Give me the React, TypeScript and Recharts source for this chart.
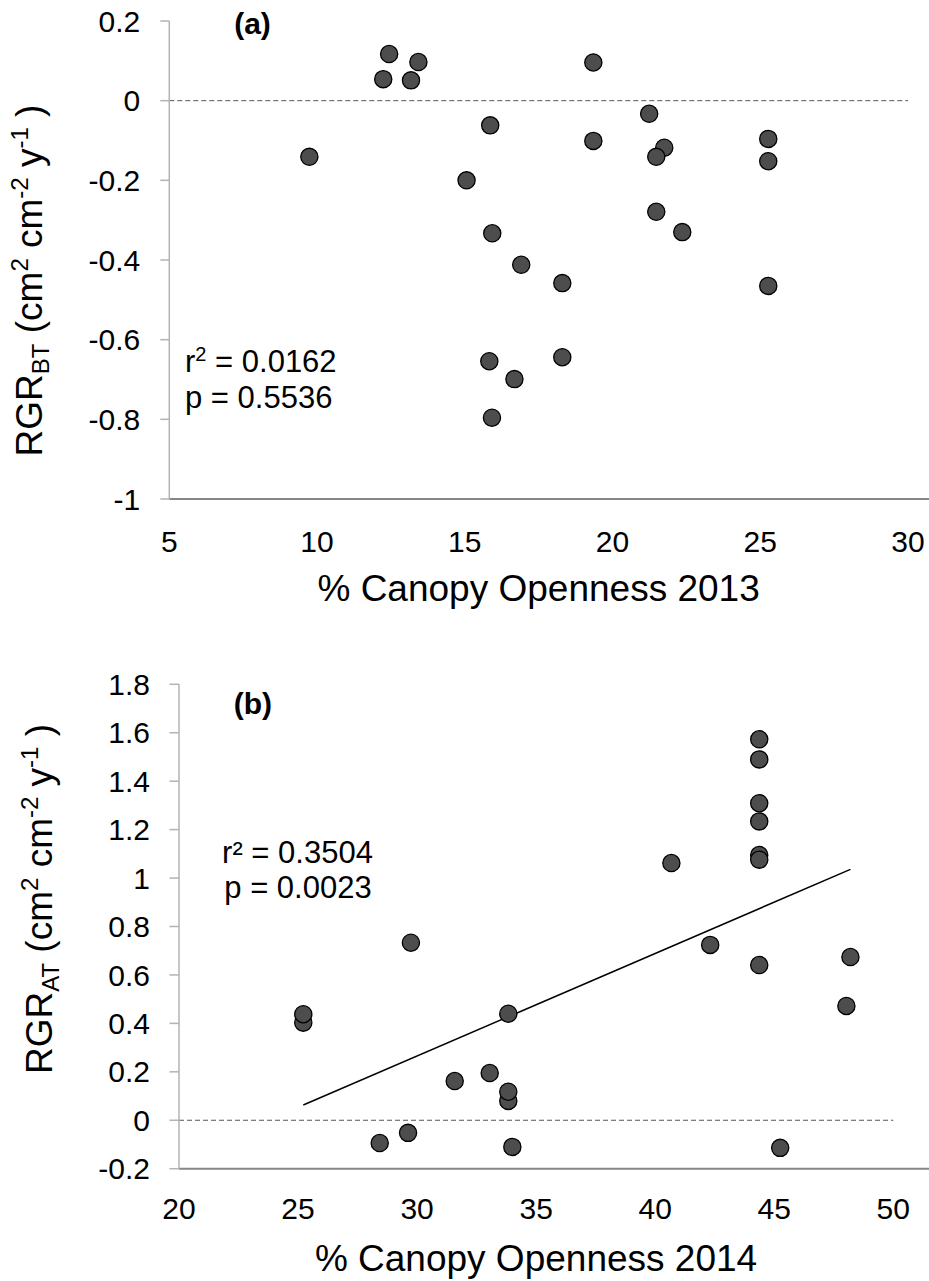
import React from "react";
import {
  ScatterChart,
  Scatter,
  XAxis,
  YAxis,
  ReferenceLine,
} from "recharts";

// Panel (a): canopy openness 2013 vs RGR before treatment
const canopy2013 = [
  9.74, 12.24, 12.44, 13.18, 13.43, 15.06, 15.86, 15.93, 15.83, 15.92, 16.68,
  16.91, 18.3, 18.3, 19.35, 19.35, 21.24, 21.75, 21.48, 21.48, 22.36, 25.27,
  25.27, 25.27,
];
const rgrBT = [
  -0.141, 0.054, 0.117, 0.051, 0.097, -0.2, -0.062, -0.333, -0.654, -0.796,
  -0.699, -0.412, -0.458, -0.644, 0.096, -0.101, -0.033, -0.118, -0.141,
  -0.279, -0.33, -0.096, -0.152, -0.465,
];

// Panel (b): canopy openness 2014 vs RGR after treatment
const canopy2014 = [
  25.22, 25.22, 28.43, 29.62, 29.74, 31.58, 33.05, 33.83, 33.83, 33.83, 34.0,
  40.68, 42.31, 44.37, 44.37, 44.37, 44.37, 44.37, 44.37, 44.37, 45.25, 48.03,
  48.2,
];
const rgrAT = [
  0.403, 0.438, -0.094, -0.052, 0.733, 0.162, 0.195, 0.44, 0.08, 0.118, -0.11,
  1.062, 0.724, 1.573, 1.49, 1.309, 1.234, 1.095, 1.076, 0.641, -0.114, 0.472,
  0.674,
];

// fitted trend line in (b), end points
const trendX = [25.22, 48.2];
const trendY = [0.063, 1.036];

const xTicksA = [5, 10, 15, 20, 25, 30];
const yTicksA = [-1, -0.8, -0.6, -0.4, -0.2, 0, 0.2];
const xTicksB = [20, 25, 30, 35, 40, 45, 50];
const yTicksB = [-0.2, 0, 0.2, 0.4, 0.6, 0.8, 1, 1.2, 1.4, 1.6, 1.8];

const FONT = "'Liberation Sans', Arial, sans-serif";
const AXIS_GREY = "#b3b3b3";
const XAXIS_GREY = "#868686";

const pointsA = canopy2013.map((x, i) => ({ x, y: rgrBT[i] }));
const pointsB = canopy2014.map((x, i) => ({ x, y: rgrAT[i] }));

const tickStyle = { fontSize: 30, fill: "#000", fontFamily: FONT };

const Dot = (p: any) => (
  <circle
    cx={p.cx}
    cy={p.cy}
    r={8.6}
    fill="#4d4d4d"
    stroke="#000"
    strokeWidth={1.3}
  />
);

function YTitle({ x, y, sub }: { x: number; y: number; sub: string }) {
  return (
    <text
      x={x}
      y={y}
      transform={`rotate(-90 ${x} ${y})`}
      textAnchor="middle"
      fontSize={37}
      fontFamily={FONT}
      fill="#000"
    >
      RGR
      <tspan dy={7} fontSize={24}>
        {sub}
      </tspan>
      <tspan dy={-7}> (cm</tspan>
      <tspan dy={-14} fontSize={24}>
        2
      </tspan>
      <tspan dy={14}> cm</tspan>
      <tspan dy={-14} fontSize={24}>
        -2
      </tspan>
      <tspan dy={14}> y</tspan>
      <tspan dy={-14} fontSize={24}>
        -1
      </tspan>
      <tspan dy={14}> )</tspan>
    </text>
  );
}

function PanelA() {
  return (
    <ScatterChart
      width={929}
      height={640}
      margin={{ top: 21, right: 0, bottom: 0, left: 0 }}
    >
      <XAxis
        type="number"
        dataKey="x"
        domain={[5, 30.71]}
        ticks={xTicksA}
        interval={0}
        tickLine={false}
        tickSize={0}
        tickMargin={32}
        height={141}
        axisLine={{ stroke: XAXIS_GREY, strokeWidth: 2 }}
        tick={tickStyle}
      />
      <YAxis
        type="number"
        dataKey="y"
        domain={[-1, 0.2]}
        ticks={yTicksA}
        interval={0}
        width={169.3}
        tickSize={9}
        tickMargin={20}
        tickLine={{ stroke: AXIS_GREY, strokeWidth: 1.5 }}
        axisLine={{ stroke: AXIS_GREY, strokeWidth: 1.5 }}
        tick={tickStyle}
      />
      <ReferenceLine
        segment={[
          { x: 5, y: 0 },
          { x: 30, y: 0 },
        ]}
        stroke="#555"
        strokeDasharray="5 3"
        strokeWidth={1}
      />
      <Scatter data={pointsA} shape={Dot} isAnimationActive={false} />
      <text
        x={252.5}
        y={34}
        textAnchor="middle"
        fontSize={30}
        fontWeight="bold"
        fontFamily={FONT}
        fill="#000"
      >
        (a)
      </text>
      <text x={185} y={371.7} fontSize={31} fontFamily={FONT} fill="#000">
        r
        <tspan dy={-11} fontSize={20}>
          2
        </tspan>
        <tspan dy={11}> = 0.0162</tspan>
      </text>
      <text x={185} y={408.3} fontSize={31} fontFamily={FONT} fill="#000">
        p = 0.5536
      </text>
      <text
        x={538.6}
        y={601}
        textAnchor="middle"
        fontSize={37}
        fontFamily={FONT}
        fill="#000"
      >
        % Canopy Openness 2013
      </text>
      <YTitle x={42} y={280.5} sub="BT" />
    </ScatterChart>
  );
}

function PanelB() {
  return (
    <ScatterChart
      width={929}
      height={641}
      margin={{ top: 44.3, right: 0, bottom: 0, left: 0 }}
    >
      <XAxis
        type="number"
        dataKey="x"
        domain={[20, 51.5]}
        ticks={xTicksB}
        interval={0}
        tickLine={false}
        tickSize={0}
        tickMargin={29.3}
        height={112.3}
        axisLine={{ stroke: XAXIS_GREY, strokeWidth: 2 }}
        tick={tickStyle}
      />
      <YAxis
        type="number"
        dataKey="y"
        domain={[-0.2, 1.8]}
        ticks={yTicksB}
        interval={0}
        width={179}
        tickSize={9.5}
        tickMargin={19.5}
        tickLine={{ stroke: AXIS_GREY, strokeWidth: 1.5 }}
        axisLine={{ stroke: AXIS_GREY, strokeWidth: 1.5 }}
        tick={tickStyle}
      />
      <ReferenceLine
        segment={[
          { x: 20, y: 0 },
          { x: 50, y: 0 },
        ]}
        stroke="#555"
        strokeDasharray="5 3"
        strokeWidth={1}
      />
      <ReferenceLine
        segment={[
          { x: trendX[0], y: trendY[0] },
          { x: trendX[1], y: trendY[1] },
        ]}
        stroke="#000"
        strokeWidth={1.5}
      />
      <Scatter data={pointsB} shape={Dot} isAnimationActive={false} />
      <text
        x={252.8}
        y={73.5}
        textAnchor="middle"
        fontSize={30}
        fontWeight="bold"
        fontFamily={FONT}
        fill="#000"
      >
        (b)
      </text>
      <text
        x={297.5}
        y={223}
        textAnchor="middle"
        fontSize={31}
        fontFamily={FONT}
        fill="#000"
      >
        r² = 0.3504
      </text>
      <text
        x={298}
        y={258}
        textAnchor="middle"
        fontSize={31}
        fontFamily={FONT}
        fill="#000"
      >
        p = 0.0023
      </text>
      <text
        x={536}
        y={631}
        textAnchor="middle"
        fontSize={37}
        fontFamily={FONT}
        fill="#000"
      >
        % Canopy Openness 2014
      </text>
      <YTitle x={52} y={259} sub="AT" />
    </ScatterChart>
  );
}

export default function App() {
  return (
    <div
      style={{
        position: "absolute",
        left: 0,
        top: 0,
        width: 929,
        height: 1281,
        background: "#fff",
        fontFamily: FONT,
      }}
    >
      <div style={{ position: "absolute", left: 0, top: 0 }}>
        <PanelA />
      </div>
      <div style={{ position: "absolute", left: 0, top: 640 }}>
        <PanelB />
      </div>
    </div>
  );
}
